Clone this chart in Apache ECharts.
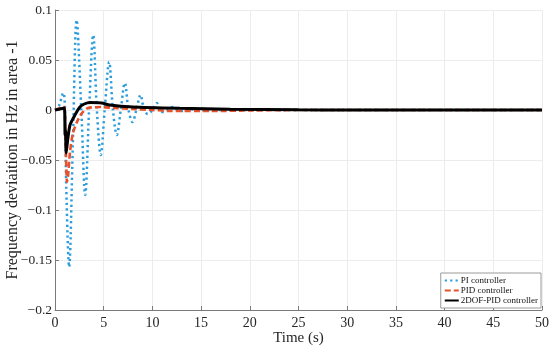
<!DOCTYPE html>
<html>
<head>
<meta charset="utf-8">
<script src="https://cdn.jsdelivr.net/npm/echarts@6/dist/echarts.min.js"></script>
<style>html,body{margin:0;padding:0;background:#fff}#c{width:550px;height:350px}</style>
</head>
<body>
<div id="c"></div>
<script>
var xTicks = [0, 5, 10, 15, 20, 25, 30, 35, 40, 45, 50];
var yTicks = [-0.2, -0.15, -0.1, -0.05, 0, 0.05, 0.1];
var seriesNames = ['PI controller', 'PID controller', '2DOF-PID controller'];

var timePI = [0, 0.4, 0.85, 1.0, 1.15, 1.45, 1.83, 2.22, 2.7, 3.1, 3.5, 3.92, 4.3, 4.7, 5.1, 5.56, 5.95, 6.35, 6.75, 7.17, 7.55, 7.96, 8.35, 8.78, 9.15, 9.53, 10.0, 10.45, 10.75, 11.07, 11.6, 12.1, 12.6, 13.1, 13.7, 14.5, 16, 20, 30, 40, 50];
var freqPI = [0, 0.004, 0.017, 0.008, -0.075, -0.157, -0.035, 0.09, 0.0, -0.085, 0.0, 0.075, 0.0, -0.045, 0.0, 0.048, 0.0, -0.025, 0.0, 0.027, 0.0, -0.012, 0.0, 0.015, 0.0, -0.004, 0.0, 0.007, 0.0, -0.002, 0.0, 0.003, 0.0, -0.001, 0.001, 0.0, 0.0, 0.0, 0.0, 0.0, 0.0];

var timePID = [0, 0.5, 0.92, 1.0, 1.1, 1.23, 1.35, 1.54, 1.84, 2.25, 2.77, 3.38, 4.8, 6, 8, 10, 12, 16, 20, 25, 30, 50];
var freqPID = [0, 0.002, 0.003, 0.001, -0.035, -0.072, -0.065, -0.042, -0.023, -0.012, -0.003, 0.002, 0.003, 0.002, 0.001, 0.0, -0.001, -0.001, -0.0005, 0.0, 0.0, 0.0];

var time2DOF = [0, 0.5, 0.97, 1.03, 1.08, 1.15, 1.3, 1.54, 2.05, 2.56, 3.0, 3.6, 4.8, 5.6, 8, 12.8, 18, 25, 30, 50];
var freq2DOF = [0, 0.001, 0.002, -0.025, -0.02, -0.043, -0.03, -0.015, -0.005, 0.003, 0.006, 0.0075, 0.007, 0.005, 0.003, 0.0017, 0.0008, 0.0002, 0.0, 0.0];

function zip(t, v) { return t.map(function (x, i) { return [x, v[i]]; }); }
function fmtY(v) {
  var s = String(Math.round(v * 100) / 100);
  return s.replace('-', '\u2212');
}

var serif = '"Liberation Serif", "DejaVu Serif", serif';
var chart = echarts.init(document.getElementById('c'), null, { renderer: 'canvas' });
chart.setOption({
  animation: false,
  backgroundColor: '#ffffff',
  grid: { left: 55, right: 8, top: 10, bottom: 40, containLabel: false, outerBoundsMode: 'none' },
  xAxis: {
    type: 'value', min: xTicks[0], max: xTicks[xTicks.length - 1], interval: 5,
    name: 'Time (s)', nameLocation: 'middle', nameGap: 21, nameMoveOverlap: false,
    nameTextStyle: { fontFamily: serif, fontSize: 15, color: '#262626' },
    axisLine: { onZero: false, lineStyle: { color: '#7a7a7a', width: 1 } },
    axisTick: { inside: true, length: 4, lineStyle: { color: '#7a7a7a' } },
    axisLabel: { fontFamily: serif, fontSize: 14, color: '#262626', margin: 6 },
    splitLine: { show: true, lineStyle: { color: '#ececec', width: 1 } }
  },
  yAxis: {
    type: 'value', min: yTicks[0], max: yTicks[yTicks.length - 1], interval: 0.05,
    name: 'Frequency deviaition in Hz in area -1', nameLocation: 'middle', nameGap: 34, nameMoveOverlap: false,
    nameTextStyle: { fontFamily: serif, fontSize: 16, color: '#262626' },
    axisLine: { show: true, onZero: false, lineStyle: { color: '#7a7a7a', width: 1 } },
    axisTick: { show: true, inside: true, length: 4, lineStyle: { color: '#7a7a7a' } },
    axisLabel: { fontFamily: serif, fontSize: 13.5, color: '#262626', margin: 3, formatter: fmtY },
    splitLine: { show: true, lineStyle: { color: '#ececec', width: 1 } }
  },
  legend: {
    orient: 'vertical', right: 9, bottom: 42,
    backgroundColor: '#ffffff', borderColor: '#9a9a9a', borderWidth: 1, borderRadius: 0,
    padding: [3, 3, 3, 3], itemGap: 1, itemWidth: 14, itemHeight: 8,
    itemStyle: { opacity: 0 },
    textStyle: { fontFamily: serif, fontSize: 9, color: '#111', padding: [0, 0, 0, -3] },
    data: seriesNames
  },
  series: [
    {
      name: seriesNames[0], type: 'line', data: zip(timePI, freqPI), smooth: 0.35,
      showSymbol: false, symbol: 'none', z: 2,
      lineStyle: { color: '#2b9ddc', width: 2.5, type: [2.2, 3.2], cap: 'butt' },
      itemStyle: { color: '#2b9ddc' }
    },
    {
      name: seriesNames[1], type: 'line', data: zip(timePID, freqPID), smooth: 0.2,
      showSymbol: false, symbol: 'none', z: 3,
      lineStyle: { color: '#e6522b', width: 2.6, type: [6, 3] },
      itemStyle: { color: '#e6522b' }
    },
    {
      name: seriesNames[2], type: 'line', data: zip(time2DOF, freq2DOF), smooth: 0.2,
      showSymbol: false, symbol: 'none', z: 4,
      lineStyle: { color: '#000000', width: 3 },
      itemStyle: { color: '#000000' }
    }
  ]
});
</script>
</body>
</html>
